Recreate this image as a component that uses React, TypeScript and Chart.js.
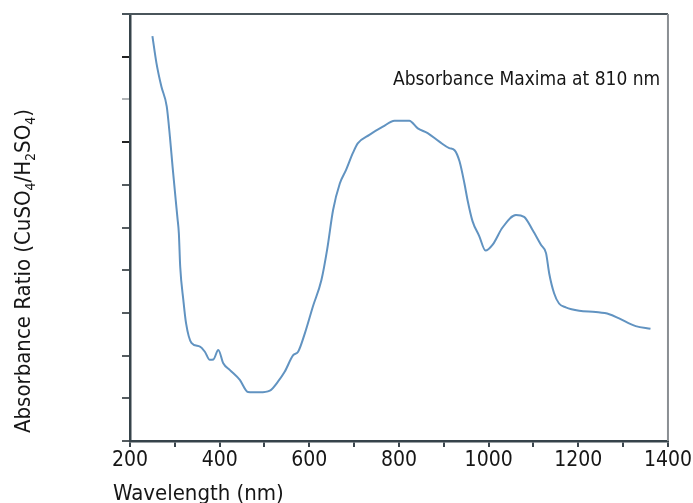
import React, { useEffect, useRef } from 'react';
import { Chart, registerables } from 'chart.js';

Chart.register(...registerables);

const wavelengths = [
  250, 259, 270, 282, 289, 295, 302, 306, 309, 312, 319, 325, 337, 356, 367, 378, 386, 397,
  408, 423, 445, 463, 489, 512, 530, 545, 564, 575, 590, 608, 627, 640, 653, 668, 682, 697,
  708, 734, 764, 790, 823, 842, 864, 890, 912, 924, 935, 946, 953, 964, 979, 993, 1009, 1031,
  1061, 1079, 1098, 1117, 1128, 1135, 1146, 1157, 1172, 1202, 1239, 1269, 1291, 1328, 1361,
];
const absorbanceRatio = [
  9.48, 8.85, 8.3, 7.83, 7.13, 6.42, 5.64, 5.21, 4.86, 4.08, 3.3, 2.76, 2.3, 2.21, 2.09, 1.9, 1.91, 2.13,
  1.82, 1.66, 1.43, 1.15, 1.14, 1.18, 1.39, 1.62, 2.01, 2.09, 2.52, 3.15, 3.77, 4.5, 5.41, 6.03, 6.35, 6.74,
  6.97, 7.17, 7.36, 7.5, 7.5, 7.32, 7.21, 7.01, 6.86, 6.81, 6.55, 6.03, 5.64, 5.15, 4.8, 4.46, 4.6, 5.0,
  5.29, 5.25, 4.94, 4.59, 4.4, 3.93, 3.46, 3.22, 3.13, 3.05, 3.02, 2.97, 2.87, 2.69, 2.63,
];
const xTickLabels = ['200', '400', '600', '800', '1000', '1200', '1400'];
const annotationText = 'Absorbance Maxima at 810 nm';
const xTitle = 'Wavelength (nm)';
const yTitleParts = [
  { t: 'Absorbance Ratio (CuSO', sub: false },
  { t: '4', sub: true },
  { t: '/H', sub: false },
  { t: '2', sub: true },
  { t: 'SO', sub: false },
  { t: '4', sub: true },
  { t: ')', sub: false },
];

const FONT = "'DejaVu Sans Condensed', 'Liberation Sans', sans-serif";
const TEXT = '#161616';

const decorPlugin = {
  id: 'decor',
  afterDraw(chart: any) {
    const { ctx, chartArea } = chart;
    const { left, right, top, bottom } = chartArea;
    ctx.save();
    // top border
    ctx.strokeStyle = '#4a555b';
    ctx.lineWidth = 2;
    ctx.beginPath();
    ctx.moveTo(left - 8, top);
    ctx.lineTo(right, top);
    ctx.stroke();
    // right border
    ctx.strokeStyle = '#8a8f93';
    ctx.beginPath();
    ctx.moveTo(right, top);
    ctx.lineTo(right, bottom);
    ctx.stroke();

    ctx.fillStyle = TEXT;
    ctx.textBaseline = 'alphabetic';
    ctx.textAlign = 'left';
    // annotation
    ctx.font = `19px ${FONT}`;
    ctx.fillText(annotationText, 393, 85);
    // x title
    ctx.font = `22px ${FONT}`;
    ctx.fillText(xTitle, 113, 500);
    // y title with subscripts
    ctx.translate(30, 433);
    ctx.rotate(-Math.PI / 2);
    let x = 0;
    for (const p of yTitleParts) {
      if (p.sub) {
        ctx.font = `14px ${FONT}`;
        ctx.fillText(p.t, x, 5);
      } else {
        ctx.font = `22px ${FONT}`;
        ctx.fillText(p.t, x, 0);
      }
      x += ctx.measureText(p.t).width;
    }
    ctx.restore();
  },
};

export default function App() {
  const ref = useRef<HTMLCanvasElement | null>(null);
  useEffect(() => {
    if (!ref.current) return;
    const chart = new Chart(ref.current, {
      type: 'line',
      data: {
        datasets: [
          {
            data: wavelengths.map((w, i) => ({ x: w, y: absorbanceRatio[i] })),
            borderColor: '#6193c1',
            borderWidth: 2,
            pointRadius: 0,
            cubicInterpolationMode: 'monotone',
            fill: false,
          },
        ],
      },
      options: {
        animation: false,
        responsive: false,
        maintainAspectRatio: false,
        layout: { padding: { left: 0, top: 14, right: 24, bottom: 0 } },
        plugins: { legend: { display: false }, tooltip: { enabled: false } },
        scales: {
          x: {
            type: 'linear',
            min: 200,
            max: 1400,
            afterFit: (s: any) => {
              s.height = 62;
            },
            ticks: {
              stepSize: 100,
              autoSkip: false,
              maxRotation: 0,
              padding: 1,
              color: TEXT,
              font: { family: FONT, size: 21 },
              callback: (v: any) => {
                const idx = xTickLabels.indexOf(String(v));
                return idx >= 0 ? xTickLabels[idx] : '';
              },
            },
            grid: { drawOnChartArea: false, drawTicks: true, tickLength: 6, color: '#3a454c', lineWidth: 2 },
            border: { color: '#36434a', width: 2.5 },
          },
          y: {
            min: 0,
            max: 10,
            afterFit: (s: any) => {
              s.width = 130;
            },
            ticks: { stepSize: 1, display: false },
            grid: {
              drawOnChartArea: false,
              drawTicks: true,
              tickLength: 8,
              lineWidth: 2,
              color: (c: any) => {
                const v = c.tick ? c.tick.value : 0;
                if (v === 8) return '#b0b4b7';
                if (v === 9 || v === 7) return '#222';
                return '#555c60';
              },
            },
            border: { color: '#36434a', width: 2.5 },
          },
        },
      },
      plugins: [decorPlugin],
    } as any);
    return () => chart.destroy();
  }, []);
  return (
    <div style={{ position: 'absolute', left: 0, top: 0, width: 693, height: 503, background: '#fff' }}>
      <canvas ref={ref} width={693} height={503} />
    </div>
  );
}
